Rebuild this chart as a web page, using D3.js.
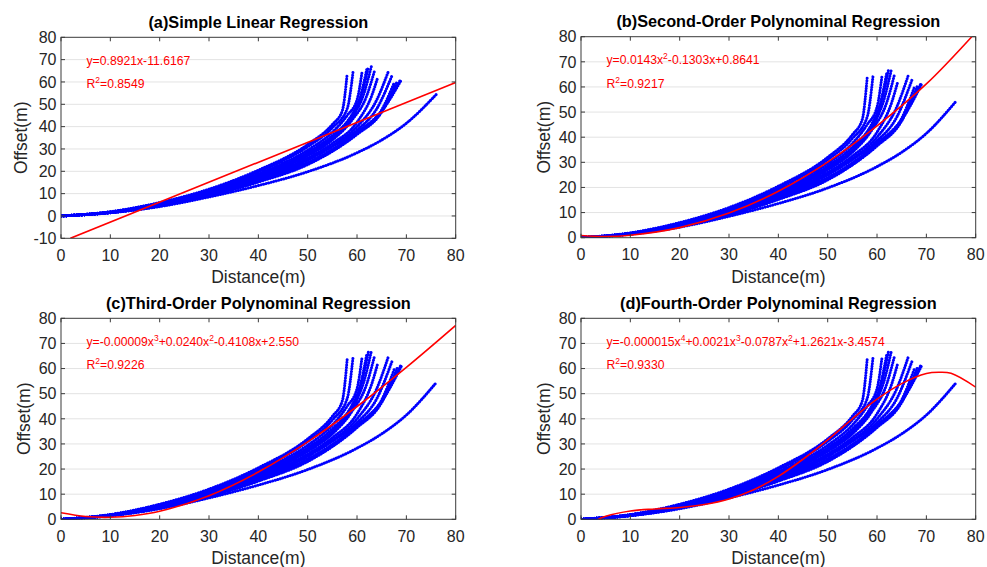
<!DOCTYPE html>
<html lang="en">
<head>
<meta charset="UTF-8">
<title>Regression fits of offset vs distance</title>
<script src="https://d3js.org/d3.v7.min.js"></script>
<style>
    body { margin: 0; background: #fff; font-family: Arial, "Liberation Sans", sans-serif; }
    svg { display: block; }
    .tick-label { font-size: 16px; fill: #262626; }
    .axis-label { font-size: 17.5px; fill: #262626; }
    .panel-title { font-size: 16.3px; font-weight: bold; fill: #000; }
    .fit-text { font-size: 12.2px; fill: #ff0000; }
    .grid { stroke: #e3e3e3; stroke-width: 1; }
    .frame { fill: none; stroke: #3a3a3a; stroke-width: 1; }
    .tick { stroke: #3a3a3a; stroke-width: 1; }
    .track { fill: none; stroke: #0000ff; stroke-width: 3; stroke-linecap: round; stroke-dasharray: 0.1 2.5; }
    .fit { fill: none; stroke: #ff0000; stroke-width: 1.6; }
</style>
</head>
<body>
<svg id="chart" width="987" height="567"></svg>
<script>
// ---- data ----
const xTicks = [0, 10, 20, 30, 40, 50, 60, 70, 80];
const yTicksA = [-10, 0, 10, 20, 30, 40, 50, 60, 70, 80];
const yTicks = [0, 10, 20, 30, 40, 50, 60, 70, 80];

const titles = [
    "(a)Simple Linear Regression",
    "(b)Second-Order Polynominal Regression",
    "(c)Third-Order Polynominal Regression",
    "(d)Fourth-Order Polynominal Regression"
];
const equations = [
    "y=0.8921x-11.6167",
    "y=0.0143x^2-0.1303x+0.8641",
    "y=-0.00009x^3+0.0240x^2-0.4108x+2.550",
    "y=-0.000015x^4+0.0021x^3-0.0787x^2+1.2621x-3.4574"
];
const rSquared = ["0.8549", "0.9217", "0.9226", "0.9330"];

// red fitted curves (distance, offset)
const fitA = [[1.9, -10], [80, 59.8]];
const fitB = [[0, 0.9], [5, 0.5], [10, 1.0], [20, 4.0], [30, 9.8], [40, 18.5], [50, 30.1], [60, 44.5], [70, 61.2], [79.2, 80]];
const fitC = [[0, 2.6], [5, 1.1], [10, 0.8], [15, 1.5], [20, 3.2], [30, 9.4], [40, 18.8], [50, 30.8], [60, 44.9], [70, 60.5], [80, 77.2]];
const fitD = [[3.5, 0], [5, 1.2], [10, 3.3], [15, 4.1], [20, 4.7], [25, 5.9], [30, 8.1], [35, 11.8], [40, 17.1], [45, 23.9],
              [50, 31.6], [55, 40.0], [60, 47.8], [65, 54.0], [70, 58.0], [72.5, 58.5], [75, 58.1], [80, 52.6]];

// blue vehicle tracks (distance, offset)
const tracks = [
    [[0, 0], [10, 1.9], [20, 6.0], [30, 12.0], [40, 20.5], [50, 32.0], [55, 41.0], [57, 47.0], [58.0, 63.5]],
    [[0, 0], [10, 1.8], [20, 5.8], [30, 11.6], [40, 19.8], [50, 31.0], [55, 39.5], [58, 48.0], [59.2, 64.6]],
    [[0, 0], [10, 1.8], [20, 5.6], [30, 11.2], [40, 19.0], [50, 29.5], [55, 37.5], [58, 45.0], [60, 52.0], [61.0, 64.2]],
    [[0, 0], [10, 1.7], [20, 5.4], [30, 10.9], [40, 18.4], [50, 28.5], [55, 36.0], [59, 45.5], [61, 55.0], [62.3, 66.6]],
    [[0, 0], [10, 1.7], [20, 5.3], [30, 10.7], [40, 18.0], [50, 28.0], [55, 35.0], [58, 42.0], [60.5, 52.0], [62.0, 65.9]],
    [[0, 0], [10, 1.7], [20, 5.2], [30, 10.5], [40, 17.6], [50, 27.5], [55, 34.5], [59, 44.0], [61.5, 55.5], [62.9, 66.9]],
    [[0, 0], [10, 1.6], [20, 5.1], [30, 10.3], [40, 17.2], [50, 27.0], [55, 34.0], [59, 43.0], [62, 54.0], [63.5, 64.6]],
    [[0, 0], [10, 1.6], [20, 5.0], [30, 10.0], [40, 16.8], [50, 26.0], [55, 32.5], [60, 42.0], [63, 54.0], [64.2, 62.0]],
    [[0, 0], [10, 1.6], [20, 4.9], [30, 9.8], [40, 16.4], [50, 25.5], [55, 31.5], [60, 40.0], [64, 52.0], [66.4, 65.0]],
    [[0, 0], [10, 1.5], [20, 4.8], [30, 9.6], [40, 16.0], [50, 25.0], [55, 31.0], [60, 38.5], [64, 48.0], [67.1, 62.9]],
    [[0, 0], [10, 1.5], [20, 4.7], [30, 9.4], [40, 15.7], [50, 24.0], [55, 29.5], [60, 37.0], [65, 47.0], [68.8, 61.0]],
    [[0, 0], [10, 1.5], [20, 4.6], [30, 9.2], [40, 15.4], [50, 23.5], [55, 29.0], [60, 36.5], [65, 46.5], [68.2, 60.5]],
    [[0, 0], [10, 1.5], [20, 4.5], [30, 9.0], [40, 15.2], [50, 23.0], [55, 29.0], [60, 37.0], [65, 47.5], [67.6, 60.0]],
    [[0, 0], [10, 1.5], [20, 4.6], [30, 9.3], [40, 15.5], [50, 23.8], [55, 29.8], [60, 37.5], [65, 47.0], [69.0, 61.0]],
    [[0, 0], [10, 1.4], [20, 4.2], [30, 8.5], [40, 13.6], [50, 19.8], [60, 28.3], [65, 34.0], [70, 41.5], [76.1, 54.5]]
];

// ---- layout ----
const svg = d3.select("#chart");
const plotW = 394.7, plotH = 201;
const panels = [
    { left: 61,  top: 37.3,  yDomain: [-10, 80], yTicks: yTicksA, fit: fitA, labelGap: 34.5 },
    { left: 581, top: 36.7,  yDomain: [0, 80],   yTicks: yTicks,  fit: fitB, labelGap: 31.5 },
    { left: 61,  top: 318.3, yDomain: [0, 80],   yTicks: yTicks,  fit: fitC, labelGap: 31.5 },
    { left: 581, top: 318.3, yDomain: [0, 80],   yTicks: yTicks,  fit: fitD, labelGap: 31.5 }
];

// text with ^n superscripts
function addSup(el, str) {
    let raise = 0;
    str.split(/\^(\d)/).forEach((part, k) => {
        if (!part) return;
        if (k % 2 === 1) {
            el.append("tspan").attr("dy", -5).attr("font-size", "8.5px").text(part);
            raise = 5;
        } else {
            el.append("tspan").attr("dy", raise).text(part);
            raise = 0;
        }
    });
}

panels.forEach((p, i) => {
    const g = svg.append("g").attr("transform", `translate(${p.left},${p.top})`);
    const x = d3.scaleLinear().domain([0, 80]).range([0, plotW]);
    const y = d3.scaleLinear().domain(p.yDomain).range([plotH, 0]);

    g.append("clipPath").attr("id", `clip-${i}`)
        .append("rect").attr("width", plotW).attr("height", plotH);

    // horizontal grid
    g.selectAll(".grid").data(p.yTicks.slice(1, -1)).enter()
        .append("line").attr("class", "grid")
        .attr("x1", 0).attr("x2", plotW)
        .attr("y1", d => y(d)).attr("y2", d => y(d));

    // tracks
    const line = d3.line().x(d => x(d[0])).y(d => y(d[1])).curve(d3.curveMonotoneX);
    const data = g.append("g").attr("clip-path", `url(#clip-${i})`);
    data.selectAll(".track").data(tracks).enter()
        .append("path").attr("class", "track").attr("d", line);

    // fitted curve
    const fitLine = d3.line().x(d => x(d[0])).y(d => y(d[1]))
        .curve(p.fit.length > 2 ? d3.curveCatmullRom : d3.curveLinear);
    data.append("path").attr("class", "fit").attr("d", fitLine(p.fit));

    // frame with inward ticks on every side
    g.append("rect").attr("class", "frame").attr("width", plotW).attr("height", plotH);
    const tl = 4;
    xTicks.forEach(t => {
        g.append("line").attr("class", "tick").attr("x1", x(t)).attr("x2", x(t)).attr("y1", plotH).attr("y2", plotH - tl);
        g.append("line").attr("class", "tick").attr("x1", x(t)).attr("x2", x(t)).attr("y1", 0).attr("y2", tl);
    });
    p.yTicks.forEach(t => {
        g.append("line").attr("class", "tick").attr("x1", 0).attr("x2", tl).attr("y1", y(t)).attr("y2", y(t));
        g.append("line").attr("class", "tick").attr("x1", plotW).attr("x2", plotW - tl).attr("y1", y(t)).attr("y2", y(t));
    });

    // tick labels
    g.selectAll(".xl").data(xTicks).enter().append("text")
        .attr("class", "tick-label").attr("x", d => x(d)).attr("y", plotH + 22.5)
        .attr("text-anchor", "middle").text(d => d);
    g.selectAll(".yl").data(p.yTicks).enter().append("text")
        .attr("class", "tick-label").attr("x", -4.5).attr("y", d => y(d)).attr("dy", "0.36em")
        .attr("text-anchor", "end").text(d => d);

    // axis labels
    g.append("text").attr("class", "axis-label")
        .attr("x", plotW / 2).attr("y", plotH + 45).attr("text-anchor", "middle")
        .text("Distance(m)");
    g.append("text").attr("class", "axis-label")
        .attr("transform", `translate(${-p.labelGap},${plotH / 2}) rotate(-90)`)
        .attr("text-anchor", "middle").text("Offset(m)");

    // title
    g.append("text").attr("class", "panel-title")
        .attr("x", plotW / 2).attr("y", -9.5).attr("text-anchor", "middle")
        .text(titles[i]);

    // equation and R^2
    addSup(g.append("text").attr("class", "fit-text").attr("x", 25.5).attr("y", 27.5), equations[i]);
    addSup(g.append("text").attr("class", "fit-text").attr("x", 25.5).attr("y", 51), "R^2=" + rSquared[i]);
});
</script>
</body>
</html>
